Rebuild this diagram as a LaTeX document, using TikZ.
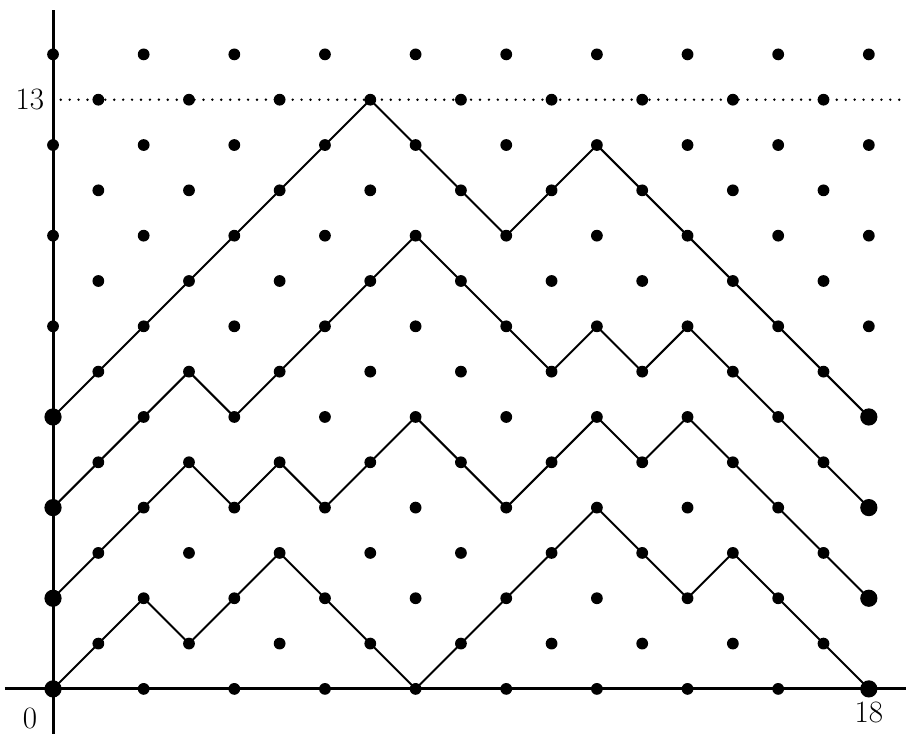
\documentclass[tikz,border=0pt]{standalone}
\tikzset{
	axis/.style={line width=1.9pt},
	walk/.style={line width=1.25pt, line cap=round},
	heightline/.style={line width=1.7pt, dash pattern=on 0pt off 5.6pt, line cap=round},
	numlabel/.style={font=\fontsize{19.5}{23}\selectfont}
}
\newcommand{\latpath}[1]{
	\foreach \h [count=\i from 0, remember=\h as \hprev (initially 0)] in {#1}{
		\ifnum\i>0
			\pgfmathtruncatemacro\j{\i-1}
			\draw[walk] (p\j-\hprev) -- (p\i-\h);
		\fi
	}
}

\begin{document}
\begin{tikzpicture}
	\useasboundingbox (-1.17,-0.99) rectangle (18.82,15.2);
	% lattice
	\foreach \x in {0,...,18}
		\foreach \y in {0,...,14}
			\coordinate (p\x-\y) at (\x,\y);
	\coordinate (xl) at (-1.06,0);
	\coordinate (xr) at (18.82,0);
	\coordinate (yb) at (0,-0.99);
	\coordinate (yt) at (0,14.98);
	\coordinate (hl) at (0.17,13);
	\coordinate (hr) at (18.82,13);
	% axes
	\draw[axis] (xl) -- (xr);
	\draw[axis] (yb) -- (yt);
	\draw[heightline] (hl) -- (hr);
	% paths
	\latpath{0,1,2,1,2,3,2,1,0,1,2,3,4,3,2,3,2,1,0}
	\latpath{2,3,4,5,4,5,4,5,6,5,4,5,6,5,6,5,4,3,2}
	\latpath{4,5,6,7,6,7,8,9,10,9,8,7,8,7,8,7,6,5,4}
	\latpath{6,7,8,9,10,11,12,13,12,11,10,11,12,11,10,9,8,7,6}
	% dots
	\foreach \x in {0,...,18}
		\foreach \y in {0,...,14}{
			\pgfmathtruncatemacro\s{mod(\x+\y,2)}
			\ifnum\s=0 \fill (p\x-\y) circle (0.13); \fi
		}
	\foreach \y in {0,2,4,6}{
		\fill (p0-\y) circle (0.19);
		\fill (p18-\y) circle (0.19);
	}
	% labels
	\node[numlabel] (zero) at (-0.51,-0.66) {0};
	\node[numlabel] (eighteen) at (18,-0.53) {18};
	\node[numlabel] (thirteen) at (-0.51,13) {13};
\end{tikzpicture}
\end{document}
